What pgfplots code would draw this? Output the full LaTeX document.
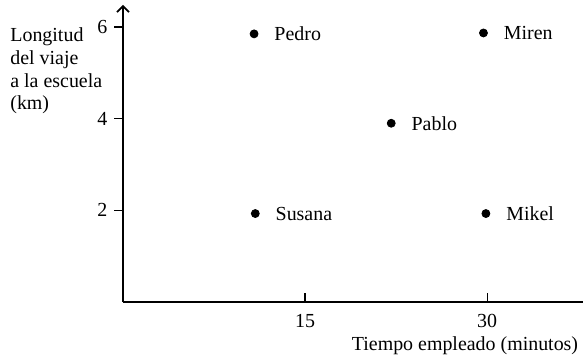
\documentclass[border=0pt]{standalone}
\usepackage{fontspec}
\setmainfont{Liberation Serif}
\usepackage{pgfplots}
\pgfplotsset{compat=1.18}
\usetikzlibrary{arrows.meta}

\begin{document}
\begin{tikzpicture}
\useasboundingbox (-61.5bp,-28bp) rectangle (230.5bp,151bp);
\begin{axis}[
  scale only axis,
  width=230bp, height=148.5bp,
  xmin=0, xmax=37.9, ymin=0, ymax=6.48,
  axis x line=bottom, axis y line=left,
  x axis line style={-},
  y axis line style={-{Straight Barb[length=3bp,width=6bp]}},
  axis line style={line width=0.8pt},
  xtick={15,30}, ytick={2,4,6},
  tick align=outside,
  every tick/.style={draw=black, line width=0.6pt},
  xtick style={yshift=0.15cm},
  /pgf/number format/assume math mode=true,
  xticklabel style={anchor=base, yshift=-13bp+4.5bp},
  yticklabel style={anchor=east},
  clip=false,
]
  \addplot[only marks, mark=*, mark size=2pt, black,
    nodes near coords, point meta=explicit symbolic,
    every node near coord/.append style={anchor=west, inner sep=0pt, xshift=10bp}]
    table[meta=label] {
    x    y    label
    10.8 5.85 Pedro
    29.7 5.87 Miren
    22.1 3.90 Pablo
    10.9 1.93 Susana
    29.9 1.93 Mikel
  };
\end{axis}
\node[anchor=north west, inner sep=0pt, align=left,
      font=\fontsize{10}{11.5}\selectfont] at (-56.5bp,137.5bp)
      {Longitud\\del viaje\\a la escuela\\(km)};
\node[anchor=base, inner sep=0pt] at (171bp,-24bp) {Tiempo empleado (minutos)};
\end{tikzpicture}
\end{document}
